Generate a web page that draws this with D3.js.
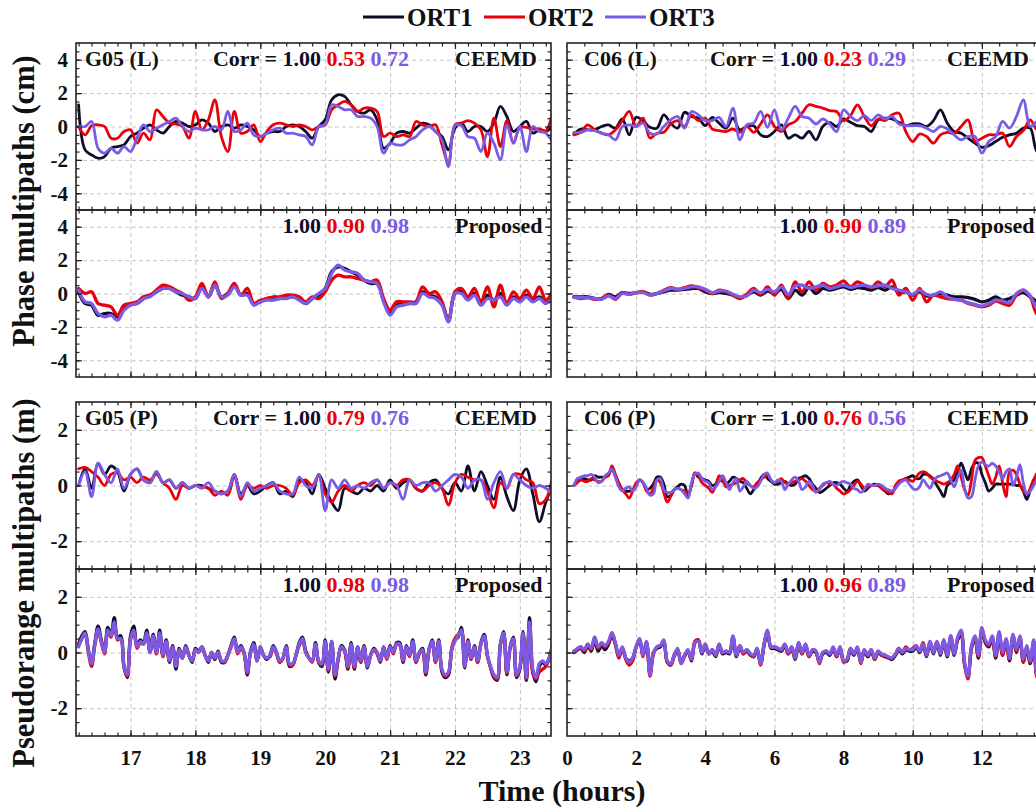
<!DOCTYPE html>
<html><head><meta charset="utf-8">
<script src="https://cdn.jsdelivr.net/npm/d3@7/dist/d3.min.js"></script>
<style>
body{margin:0;background:#fff}
svg{display:block}
text{font-family:"Liberation Serif","Times New Roman",serif;font-weight:bold}
</style>
</head><body><svg id="c" width="1036" height="812"></svg>
<script>
// ---------------- DATA ----------------
const seriesNames = ["ORT1", "ORT2", "ORT3"];

// time grids (hours)
const tLeft = d3.range(162, 236).map(d => d / 10);       // 16.2 .. 23.5
const tLeftFine = d3.range(324, 471).map(d => d / 20);   // 16.20 .. 23.50
const tRight = d3.range(1, 70).map(d => d / 5);          // 0.2 .. 13.8
const tRightFine = d3.range(2, 139).map(d => d / 10);    // 0.2 .. 13.8

// tick labels
const xTicksLeft = [17, 18, 19, 20, 21, 22, 23];
const xTicksRight = [0, 2, 4, 6, 8, 10, 12];
const yTicksPhase = [-4, -2, 0, 2, 4];
const yTicksPR = [-2, 0, 2];

// correlation texts
const corr_g05L_ceemd = ["1.00", "0.53", "0.72"];
const corr_g05L_prop = ["1.00", "0.90", "0.98"];
const corr_g05P_ceemd = ["1.00", "0.79", "0.76"];
const corr_g05P_prop = ["1.00", "0.98", "0.98"];
const corr_c06L_ceemd = ["1.00", "0.23", "0.29"];
const corr_c06L_prop = ["1.00", "0.90", "0.89"];
const corr_c06P_ceemd = ["1.00", "0.76", "0.56"];
const corr_c06P_prop = ["1.00", "0.96", "0.89"];

// G05 phase (cm), CEEMD
const g05L_ceemd_ort1 = [1.3,-1.4,-1.7,-1.9,-1.8,-1.3,-1.2,-1.1,-0.6,-0.4,
 -0.1,0.1,-0.2,-0.4,0.0,0.3,0.2,0.0,0.1,0.4,
 0.2,-0.3,0.0,0.1,-0.1,0.1,0.0,-0.2,-0.6,-0.4,
 -0.3,-0.3,0.0,0.1,0.0,-0.3,-0.7,0.0,0.4,1.6,
 1.9,1.8,1.3,0.9,0.8,1.0,0.4,-1.3,-1.0,-0.4,
 -0.3,-0.4,-0.1,0.2,0.1,-0.3,-0.6,-1.4,-0.1,0.2,
 -0.3,0.0,0.0,-0.3,0.2,1.2,0.6,-0.3,0.0,0.3,
 -0.4,-0.2,-0.3,0.0];
const g05L_ceemd_ort2 = [0.0,-0.5,0.05,0.1,0.0,-0.7,-0.7,-0.3,-0.2,-1.0,
 -0.4,-0.8,1.0,0.6,0.2,0.15,0.0,-0.7,0.9,-0.2,
 0.4,1.6,-0.6,-1.5,0.9,-0.4,-0.3,0.1,-0.9,-0.3,
 0.1,0.2,0.1,0.0,0.1,0.0,-0.2,0.0,0.1,1.0,
 1.3,1.5,1.3,0.9,1.1,1.1,0.9,-0.6,-0.4,-0.6,
 -0.5,-0.6,0.3,0.1,0.0,0.1,-1.1,-2.2,0.1,0.2,
 0.35,0.2,-0.2,-1.8,0.5,-1.2,0.35,-1.0,-0.05,-0.05,
 -0.15,-0.15,-0.25,0.8];
const g05L_ceemd_ort3 = [0.0,0.0,0.3,-1.3,-1.6,-1.3,-1.6,-1.2,-1.5,-0.7,
 0.1,-0.3,-0.1,0.1,0.3,0.5,0.0,-0.3,-0.1,-0.2,
 -0.2,0.0,-0.2,0.9,-0.3,-0.2,0.2,-0.5,-0.6,-0.4,
 -0.2,-0.1,-0.4,-0.4,-0.5,-0.6,-1.1,0.0,0.1,1.3,
 1.2,1.0,1.0,0.6,0.6,0.5,0.0,-1.6,-1.0,-1.1,
 -1.1,-0.8,-0.6,-0.2,0.0,-0.3,-0.8,-2.4,0.05,0.05,
 -0.6,-0.7,-1.5,-0.4,-1.0,-2.0,0.1,-1.0,0.0,-1.5,
 0.0,-0.3,-0.4,-0.9];

// G05 phase (cm), Proposed
const g05L_prop_ort1 = [0.1,-0.6,-0.7,-1.3,-1.2,-1.2,-1.4,-0.9,-0.6,-0.6,
 -0.3,-0.1,0.1,0.3,0.3,0.1,-0.1,-0.2,-0.3,0.4,
 -0.2,0.5,-0.2,0.0,0.5,-0.1,0.0,-0.6,-0.5,-0.3,
 -0.3,-0.3,-0.2,-0.2,-0.3,-0.6,-0.3,-0.1,0.3,1.3,
 1.6,1.5,1.3,1.1,0.8,0.6,0.6,-0.4,-1.2,-0.7,
 -0.6,-0.6,-0.5,0.1,-0.1,-0.2,-0.6,-1.6,0.0,0.1,
 -0.3,0.0,-0.6,-0.1,-0.4,0.0,-0.6,-0.2,-0.4,-0.1,
 -0.4,-0.2,-0.5,0.0];
const g05L_prop_ort2 = [0.3,0.0,0.1,-0.6,-0.7,-0.8,-1.3,-0.7,-0.6,-0.5,
 -0.2,-0.1,0.2,0.5,0.4,0.2,0.0,-0.4,-0.2,0.6,
 -0.2,0.7,-0.3,0.0,0.6,-0.1,0.3,-0.6,-0.4,-0.3,
 -0.2,-0.2,-0.1,-0.1,-0.2,-0.5,-0.2,-0.3,0.1,0.8,
 1.1,1.0,1.0,0.9,0.8,0.7,0.8,-0.3,-1.0,-0.5,
 -0.5,-0.5,-0.5,0.4,0.0,0.1,-0.5,-1.6,0.1,0.3,
 -0.2,0.3,-0.5,0.4,-0.8,0.5,-0.6,0.1,-0.3,0.2,
 -0.3,0.4,-0.4,0.1];
const g05L_prop_ort3 = [0.2,-0.5,-0.6,-1.2,-1.4,-1.3,-1.6,-1.0,-0.7,-0.6,
 -0.3,-0.2,0.1,0.3,0.3,0.1,0.0,-0.2,-0.3,0.3,
 -0.2,0.5,-0.2,-0.1,0.4,-0.1,-0.1,-0.7,-0.5,-0.4,
 -0.4,-0.3,-0.3,-0.2,-0.4,-0.6,-0.3,0.0,0.3,1.2,
 1.7,1.4,1.3,1.2,0.8,0.7,0.6,-0.5,-1.3,-0.8,
 -0.7,-0.6,-0.6,0.0,-0.2,-0.3,-0.7,-1.7,0.0,0.0,
 -0.4,-0.1,-0.7,-0.3,-0.4,-0.2,-0.7,-0.3,-0.5,-0.2,
 -0.5,-0.3,-0.6,-0.3];

// G05 pseudorange (m), CEEMD
const g05P_ceemd_ort1 = [0.0,0.6,-0.1,0.8,0.4,0.7,0.5,-0.2,0.4,0.6,
 0.2,0.1,0.5,0.1,0.2,-0.1,0.1,-0.1,0.0,0.0,
 -0.1,-0.2,-0.3,-0.2,0.4,-0.3,0.0,-0.3,-0.2,0.0,
 0.1,-0.3,-0.2,-0.4,0.2,0.1,-0.3,0.4,-0.1,-0.6,
 -0.9,-0.1,-0.2,-0.3,-0.1,-0.2,0.0,-0.2,0.2,-0.1,
 0.1,0.2,-0.1,-0.2,0.1,0.2,-0.1,-0.3,0.1,-0.2,
 0.7,-0.2,0.5,0.0,-0.5,0.3,-0.4,-0.9,0.2,0.6,
 -0.3,-1.3,-0.6,0.0];
const g05P_ceemd_ort2 = [0.6,0.65,0.5,0.3,0.0,0.4,0.45,0.2,0.3,0.1,
 0.3,0.2,0.4,0.1,-0.1,-0.5,0.0,-0.1,0.0,-0.05,
 -0.1,-0.35,-0.2,-0.35,0.35,-0.5,0.0,-0.1,0.0,-0.1,
 0.0,0.0,-0.1,-0.35,0.1,0.2,0.0,0.35,-0.3,-0.6,
 -0.2,0.0,-0.2,0.0,0.1,0.0,0.2,-0.1,0.1,0.0,
 0.2,0.2,-0.1,-0.2,0.0,0.1,-0.1,-0.7,0.1,0.4,
 0.3,0.2,0.2,-0.2,-0.8,0.1,-0.1,0.4,0.4,0.2,
 0.1,-0.65,-0.5,0.3];
const g05P_ceemd_ort3 = [0.0,0.5,-0.4,0.8,0.4,0.1,0.6,-0.1,0.4,0.6,
 0.2,0.1,0.5,0.1,0.2,-0.1,0.1,-0.1,0.0,-0.1,
 0.1,-0.2,-0.3,-0.2,0.4,-0.4,0.1,-0.2,-0.1,0.0,
 0.1,-0.2,-0.3,-0.3,0.3,0.0,-0.1,0.4,-0.9,0.2,
 -0.1,0.2,-0.1,0.0,-0.1,0.1,0.2,-0.1,0.1,0.0,
 -0.5,0.2,0.0,0.1,0.1,-0.2,0.0,0.2,0.4,0.3,
 -0.1,0.2,0.2,-0.5,0.1,0.5,-0.1,0.4,0.2,0.0,
 -0.1,0.0,-0.1,-0.3];

// G05 pseudorange (m), Proposed (fine grid)
const g05P_prop_ort1 = [0.3,0.6,0.75,0.1,-0.35,0.35,0.95,0.45,0.05,0.9,
 0.65,1.25,0.55,0.6,-0.5,-0.9,0.6,0.95,0.25,0.45,
 0.35,0.8,0.05,0.65,0.0,0.8,-0.1,0.45,-0.35,0.25,
 -0.6,0.15,-0.2,0.25,-0.1,-0.35,0.15,0.05,0.2,-0.1,
 -0.35,0.0,-0.25,0.05,-0.35,-0.35,-0.1,0.25,0.55,0.05,
 0.25,0.0,-0.8,0.05,0.35,-0.3,0.2,-0.1,-0.25,-0.1,
 0.25,0.0,-0.35,-0.2,0.25,-0.5,-0.45,-0.1,0.35,0.55,
 0.05,-0.2,-0.3,0.35,-0.35,-0.5,0.45,-0.7,0.4,-0.95,
 -0.25,0.25,0.1,-0.6,0.35,-0.6,0.2,-0.35,0.25,-0.55,
 -0.1,0.15,0.0,-0.35,0.2,-0.2,0.25,0.0,0.35,0.35,
 -0.35,0.25,-0.1,0.45,-0.35,0.0,0.15,-0.8,0.1,0.45,
 -0.35,0.45,-0.7,-0.9,-0.8,0.1,0.45,0.55,0.9,-0.55,
 0.45,-0.25,0.25,-0.35,0.35,0.65,-0.1,-0.55,-0.9,-1.0,
 0.3,0.75,-0.8,0.2,0.55,-0.9,-0.6,0.75,-1.0,1.25,
 -0.7,-1.05,-0.5,-0.35,-0.45,-0.2,0.25];
const g05P_prop_ort2 = [0.25,0.5,0.65,0.0,-0.5,0.25,0.8,0.35,-0.05,0.75,
 0.55,1.05,0.45,0.5,-0.55,-0.85,0.45,0.75,0.15,0.35,
 0.3,0.65,0.0,0.55,-0.05,0.65,-0.15,0.4,-0.3,0.2,
 -0.5,0.1,-0.2,0.15,-0.1,-0.3,0.1,0.0,0.15,-0.1,
 -0.3,0.0,-0.2,0.0,-0.3,-0.35,-0.1,0.2,0.45,-0.05,
 0.15,-0.05,-0.75,0.0,0.25,-0.3,0.15,-0.1,-0.2,-0.15,
 0.2,-0.05,-0.35,-0.2,0.2,-0.45,-0.45,-0.1,0.25,0.45,
 0.0,-0.2,-0.35,0.25,-0.35,-0.45,0.35,-0.65,0.35,-0.85,
 -0.25,0.2,0.05,-0.55,0.25,-0.55,0.15,-0.35,0.2,-0.5,
 -0.1,0.1,-0.05,-0.3,0.15,-0.25,0.2,-0.05,0.3,0.25,
 -0.3,0.15,-0.15,0.35,-0.35,-0.05,0.1,-0.75,0.05,0.4,
 -0.35,0.4,-0.65,-0.85,-0.75,0.15,0.5,0.65,0.8,-0.5,
 0.4,-0.25,0.2,-0.35,0.3,0.55,-0.15,-0.55,-0.85,-0.95,
 0.25,0.65,-0.75,0.15,0.45,-0.85,-0.55,0.65,-0.95,1.0,
 -0.75,-0.95,-0.7,-0.6,-0.5,-0.25,0.15];
const g05P_prop_ort3 = [0.2,0.5,0.7,0.1,-0.4,0.3,0.85,0.4,0.0,0.8,
 0.6,1.1,0.5,0.5,-0.5,-0.8,0.5,0.8,0.2,0.4,
 0.3,0.7,0.0,0.6,0.0,0.7,-0.1,0.4,-0.3,0.2,
 -0.5,0.1,-0.2,0.2,-0.1,-0.3,0.1,0.0,0.2,-0.1,
 -0.3,0.0,-0.2,0.0,-0.3,-0.3,-0.1,0.2,0.5,0.0,
 0.2,0.0,-0.7,0.0,0.3,-0.3,0.2,-0.1,-0.2,-0.1,
 0.2,0.0,-0.3,-0.2,0.2,-0.4,-0.4,-0.1,0.3,0.5,
 0.0,-0.2,-0.3,0.3,-0.3,-0.4,0.4,-0.6,0.4,-0.8,
 -0.2,0.2,0.1,-0.5,0.3,-0.5,0.2,-0.3,0.2,-0.5,
 -0.1,0.1,0.0,-0.3,0.2,-0.2,0.2,0.0,0.3,0.3,
 -0.3,0.2,-0.1,0.4,-0.3,0.0,0.1,-0.7,0.1,0.4,
 -0.3,0.4,-0.6,-0.8,-0.7,0.1,0.4,0.6,0.8,-0.5,
 0.4,-0.2,0.2,-0.3,0.3,0.6,-0.1,-0.5,-0.8,-0.9,
 0.3,0.7,-0.7,0.2,0.5,-0.8,-0.5,0.7,-0.9,1.1,
 -0.6,-0.9,-0.4,-0.3,-0.4,-0.2,0.2];

// C06 phase (cm), CEEMD
const c06L_ceemd_ort1 = [-0.45,-0.15,-0.2,-0.2,0.0,0.1,-0.1,0.45,-0.5,0.55,
 0.35,-0.05,-0.1,0.7,0.2,-0.1,0.85,0.6,0.5,0.05,
 0.55,0.2,-0.1,0.5,-0.2,0.0,0.05,-0.5,-0.6,-0.3,
 0.1,-0.7,-0.5,-0.7,-0.3,-0.8,0.0,0.25,0.0,0.45,
 0.25,0.05,0.0,-0.3,0.4,0.5,0.45,0.25,0.05,0.15,
 0.15,0.0,0.35,1.0,0.2,-0.3,-0.4,-0.7,-1.0,-1.25,
 -1.15,-0.9,-0.65,-0.5,-0.4,-0.1,-0.1,-1.5,-1.3];
const c06L_ceemd_ort2 = [-0.5,-0.35,0.1,-0.2,-0.4,-0.5,-0.2,0.35,0.9,0.0,
 0.5,-0.7,-0.4,-0.35,0.15,0.35,0.0,0.7,0.35,0.5,
 -0.15,-0.25,-0.3,-0.15,-0.35,0.0,-0.35,0.15,0.7,0.0,
 -0.3,0.1,0.3,0.8,1.3,1.2,1.1,0.95,0.9,0.35,
 0.65,1.3,0.6,0.05,0.45,0.35,0.7,0.8,-0.3,-0.9,
 -0.45,-0.6,-1.0,-0.5,-0.35,-0.4,0.0,0.4,-0.9,-0.7,
 -0.5,-0.5,-0.4,-1.2,-0.6,-0.25,0.4,-0.2,0.2];
const c06L_ceemd_ort3 = [-0.35,-0.35,-0.2,-0.25,-0.4,-0.5,-0.8,0.0,0.1,0.0,
 0.2,-0.4,-0.45,0.0,0.4,0.6,-0.1,0.9,0.7,0.35,
 0.35,0.55,0.0,1.1,-0.8,0.1,0.2,0.9,-0.05,1.0,
 -0.2,0.5,1.2,0.6,0.5,0.15,0.45,0.15,-0.3,1.0,
 0.6,0.35,0.65,0.35,0.7,0.45,0.6,0.15,0.05,0.05,
 0.05,-0.1,-0.3,0.0,-0.15,-0.5,-0.8,-0.6,-0.6,-1.6,
 -0.9,-0.6,0.3,-0.1,0.6,1.6,0.0,0.3,0.2];

// C06 phase (cm), Proposed
const c06L_prop_ort1 = [-0.2,-0.2,-0.2,-0.3,-0.3,-0.05,-0.2,0.05,0.0,0.05,
 0.1,-0.05,0.0,0.1,0.2,0.2,0.25,0.3,0.3,0.1,
 0.0,0.05,0.0,-0.1,-0.25,-0.1,0.1,-0.1,0.15,0.0,
 0.25,-0.3,0.2,-0.1,0.35,0.0,0.3,0.2,0.3,0.4,
 0.25,0.35,0.3,0.2,0.35,0.2,0.4,0.05,0.1,-0.1,
 0.1,-0.15,-0.1,0.0,-0.1,-0.2,-0.2,-0.25,-0.35,-0.5,
 -0.4,-0.2,-0.4,-0.3,-0.1,0.05,-0.2,-0.5,-0.7];
const c06L_prop_ort2 = [-0.2,-0.3,-0.25,-0.35,-0.3,-0.1,-0.35,0.05,-0.05,0.05,
 0.1,-0.1,0.0,0.2,0.35,0.25,0.35,0.45,0.35,0.2,
 0.0,0.2,0.1,-0.1,-0.3,-0.05,0.3,-0.05,0.4,-0.1,
 0.5,-0.3,0.7,0.1,0.7,0.2,0.6,0.4,0.5,0.75,
 0.4,0.7,0.5,0.35,0.7,0.4,0.8,-0.1,0.3,-0.4,
 0.3,-0.5,-0.1,-0.2,-0.3,-0.35,-0.4,-0.6,-0.7,-0.8,
 -0.7,-0.45,-0.6,-0.7,-0.1,0.2,-0.2,-1.25,-1.3];
const c06L_prop_ort3 = [-0.25,-0.25,-0.25,-0.3,-0.35,-0.15,-0.3,0.0,-0.05,0.05,
 0.05,-0.1,0.0,0.15,0.3,0.25,0.3,0.4,0.4,0.25,
 0.05,0.15,0.15,-0.05,-0.2,-0.15,0.2,0.05,0.25,0.1,
 0.4,-0.05,0.45,0.5,0.3,0.4,0.5,0.3,0.4,0.5,
 0.35,0.45,0.5,0.4,0.45,0.5,0.3,0.2,0.1,-0.05,
 0.2,-0.05,-0.1,0.1,-0.2,-0.35,-0.4,-0.55,-0.65,-0.75,
 -0.6,-0.4,-0.45,-0.55,0.0,0.2,-0.15,-0.9,-1.1];

// C06 pseudorange (m), CEEMD (fine grid)
const c06P_ceemd_ort1 = [0.0,0.15,0.2,0.25,0.2,0.2,0.35,0.3,0.3,0.3,
 0.4,0.6,0.35,0.05,-0.15,-0.2,-0.2,-0.15,0.0,0.2,
 0.1,-0.15,-0.1,0.05,0.3,0.3,0.05,-0.4,-0.35,-0.15,
 -0.05,0.05,0.0,-0.4,0.0,0.45,0.3,0.25,0.2,0.15,
 0.0,0.05,0.2,0.15,0.05,0.15,0.3,0.25,0.15,0.1,
 -0.1,-0.3,-0.15,0.0,0.25,0.4,0.25,0.15,0.05,0.05,
 0.1,0.15,0.05,0.0,0.05,0.25,0.3,0.35,0.25,0.05,
 -0.1,-0.25,-0.2,-0.1,0.0,0.1,0.1,0.05,-0.1,-0.2,
 0.0,0.15,0.2,0.0,-0.2,-0.1,0.0,0.05,0.0,-0.1,
 -0.2,-0.3,-0.25,-0.1,0.15,0.2,0.25,0.3,0.35,0.25,
 0.25,0.4,0.4,0.35,0.2,0.0,-0.2,-0.4,0.0,0.1,
 0.2,0.5,0.8,0.5,0.2,0.6,0.8,0.8,0.4,0.1,
 -0.2,-0.1,0.05,0.05,0.05,0.05,0.05,0.05,0.0,0.0,
 -0.2,-0.5,-0.15,0.2,0.3,0.1,0.0];
const c06P_ceemd_ort2 = [0.0,0.1,0.2,0.15,0.15,0.25,0.2,0.15,0.15,0.3,
 0.35,0.7,0.4,0.1,-0.15,-0.3,-0.45,-0.2,0.1,0.2,
 0.1,-0.2,-0.3,-0.1,0.2,0.1,-0.25,-0.6,-0.4,-0.15,
 -0.1,-0.15,-0.2,-0.3,0.0,0.45,0.35,0.1,0.0,-0.1,
 -0.25,0.0,0.35,0.2,-0.05,0.0,0.05,0.1,0.2,0.25,
 0.1,0.0,-0.05,0.1,0.2,0.3,0.4,0.2,0.1,0.15,
 0.25,0.1,0.05,0.1,0.15,0.2,0.25,0.15,0.0,-0.15,
 -0.2,-0.1,0.0,0.1,0.05,0.05,-0.1,-0.2,-0.3,-0.25,
 -0.15,0.0,0.15,0.05,-0.1,-0.05,0.0,0.0,0.0,-0.1,
 -0.2,-0.25,-0.3,0.0,0.15,0.2,0.25,0.2,0.15,0.3,
 0.45,0.5,0.45,0.3,0.25,0.15,0.1,0.05,0.1,0.2,
 0.4,0.7,0.3,-0.15,-0.35,0.2,0.9,1.0,1.0,0.7,
 0.35,0.05,0.3,0.7,0.1,-0.4,0.5,0.55,0.4,0.05,
 -0.2,-0.3,-0.1,0.2,0.45,0.2,0.0];
const c06P_ceemd_ort3 = [0.0,0.25,0.3,0.35,0.35,0.4,0.3,0.1,0.15,0.35,
 0.45,0.6,0.3,-0.05,-0.2,-0.1,-0.05,-0.2,-0.05,0.2,
 0.1,-0.1,-0.35,-0.3,0.2,0.25,-0.15,-0.25,-0.25,-0.15,
 -0.1,-0.15,-0.3,-0.45,0.1,0.4,0.45,0.25,0.15,0.1,
 -0.15,-0.05,0.15,0.35,0.1,-0.15,0.1,0.25,-0.2,-0.05,
 0.15,0.0,-0.1,-0.05,0.15,0.4,0.45,0.2,0.1,0.2,
 0.15,-0.15,0.05,0.2,0.3,0.15,-0.15,-0.05,0.15,0.0,
 -0.25,-0.15,0.05,0.1,0.15,0.05,0.0,0.1,0.15,0.1,
 0.05,-0.1,-0.15,-0.25,-0.15,0.05,0.0,0.0,0.05,0.0,
 -0.1,-0.15,-0.2,-0.1,0.05,0.15,0.2,0.05,-0.1,-0.15,
 -0.05,0.2,0.05,-0.1,0.15,0.3,0.35,0.4,0.45,0.2,
 -0.05,0.3,0.55,-0.1,-0.45,-0.4,0.2,0.7,0.85,0.75,
 0.7,0.8,0.7,0.5,0.25,0.5,0.6,0.0,0.3,0.75,
 0.1,-0.3,-0.2,0.0,0.2,0.1,0.0];

// C06 pseudorange (m), Proposed (fine grid)
const c06P_prop_ort1 = [0.0,0.1,0.15,0.0,0.25,0.05,0.45,0.05,0.25,0.1,
 0.3,0.6,0.3,-0.15,0.15,-0.2,-0.3,-0.2,0.2,0.45,
 -0.1,0.35,-0.75,0.0,0.15,0.2,0.4,-0.35,-0.45,-0.1,
 0.1,-0.35,-0.1,0.05,-0.3,0.35,0.45,-0.05,0.25,-0.05,
 0.05,-0.15,0.25,-0.05,0.0,-0.05,0.55,-0.15,0.2,-0.05,
 0.05,-0.1,-0.15,0.1,-0.4,0.25,0.75,0.15,0.15,0.1,
 0.05,0.25,-0.05,0.15,-0.25,0.3,-0.05,0.25,-0.15,0.05,
 0.0,-0.35,-0.05,0.0,-0.1,0.15,-0.15,0.15,-0.3,-0.3,
 0.1,-0.1,0.15,-0.35,0.05,-0.15,0.05,-0.25,0.0,-0.1,
 -0.15,-0.2,-0.25,-0.1,0.1,-0.05,0.1,0.05,0.05,0.2,
 0.0,0.25,-0.15,0.35,-0.05,0.35,-0.1,0.4,-0.15,0.5,
 -0.1,0.45,0.65,-0.45,-0.85,0.15,0.5,-0.2,0.75,0.35,
 0.2,0.5,-0.2,0.6,-0.1,0.4,-0.3,0.55,0.0,0.5,
 -0.35,0.15,-0.4,0.35,-0.85,-0.6,-0.4];
const c06P_prop_ort2 = [0.05,0.1,0.2,0.05,0.3,0.1,0.55,0.15,0.3,0.2,
 0.35,0.7,0.3,-0.2,0.15,-0.25,-0.45,-0.3,0.2,0.5,
 -0.15,0.35,-0.85,-0.05,0.2,0.25,0.4,-0.35,-0.45,-0.15,
 0.1,-0.4,-0.15,0.05,-0.25,0.4,0.45,0.0,0.3,-0.05,
 0.1,-0.1,0.3,0.0,0.05,0.0,0.55,-0.1,0.25,-0.05,
 0.1,-0.05,-0.15,0.15,-0.45,0.3,0.75,0.2,0.2,0.15,
 0.1,0.3,-0.05,0.2,-0.2,0.35,-0.05,0.3,-0.15,0.1,
 0.05,-0.4,0.0,0.05,-0.05,0.15,-0.15,0.2,-0.35,-0.25,
 0.15,-0.05,0.15,-0.4,0.1,-0.1,0.1,-0.25,0.05,-0.1,
 -0.1,-0.2,-0.2,-0.05,0.15,0.0,0.2,0.1,0.15,0.25,
 0.05,0.35,-0.1,0.4,0.0,0.4,-0.05,0.45,-0.1,0.6,
 -0.05,0.5,0.75,-0.4,-0.95,0.2,0.55,-0.15,0.85,0.4,
 0.25,0.55,-0.15,0.7,-0.1,0.45,-0.25,0.6,0.05,0.55,
 -0.35,0.2,-0.35,0.4,-0.9,-0.7,-0.4];
const c06P_prop_ort3 = [0.05,0.15,0.2,0.1,0.3,0.15,0.55,0.2,0.35,0.25,
 0.4,0.7,0.35,-0.1,0.2,-0.2,-0.35,-0.2,0.2,0.5,
 -0.1,0.4,-0.8,0.0,0.2,0.25,0.45,-0.3,-0.4,-0.1,
 0.15,-0.4,-0.1,0.1,-0.25,0.35,0.4,0.0,0.3,-0.05,
 0.1,-0.1,0.3,0.0,0.05,0.0,0.6,-0.1,0.25,0.0,
 0.1,-0.05,-0.1,0.15,-0.4,0.3,0.8,0.2,0.2,0.15,
 0.1,0.3,0.0,0.2,-0.2,0.35,0.0,0.3,-0.1,0.1,
 0.05,-0.35,0.0,0.05,-0.05,0.2,-0.1,0.2,-0.3,-0.25,
 0.15,-0.05,0.2,-0.35,0.1,-0.1,0.1,-0.2,0.05,-0.05,
 -0.1,-0.15,-0.2,-0.05,0.15,0.0,0.15,0.1,0.1,0.25,
 0.05,0.3,-0.1,0.4,0.0,0.4,-0.05,0.45,-0.1,0.6,
 -0.05,0.55,0.8,-0.35,-0.85,0.25,0.6,-0.1,0.9,0.45,
 0.3,0.6,-0.1,0.75,0.0,0.5,-0.2,0.65,0.1,0.6,
 -0.25,0.25,-0.3,0.45,-0.8,-0.5,-0.3];

// ---------------- LAYOUT / STYLE ----------------
const colors = ["#0d0d2b", "#e8000b", "#7b5be6"];
const inkColor = "#111";
const W = 1036, H = 812;
const svg = d3.select("#c");
svg.append("rect").attr("width", W).attr("height", H).attr("fill", "#fff");

const cols = [
  { x0: 76, x1: 551, domain: [16.16, 23.48], major: xTicksLeft,
    minor: d3.range(81, 118).map(d => d / 5), labelDx: 9, corrEndDx: 333, methodDx: 379 },
  { x0: 567, x1: 1051, domain: [0, 14], major: xTicksRight.concat([14]),
    minor: d3.range(0, 29).map(d => d / 2), labelDx: 17, corrEndDx: 339, methodDx: 380 }
];
const rows = [
  { y0: 43, y1: 210, domain: [-5, 5], major: yTicksPhase, minor: d3.range(-10, 11).map(d => d / 2) },
  { y0: 210, y1: 377, domain: [-5, 5], major: yTicksPhase, minor: d3.range(-10, 11).map(d => d / 2) },
  { y0: 402, y1: 569, domain: [-3, 3], major: yTicksPR, minor: d3.range(-6, 7).map(d => d / 2) },
  { y0: 569, y1: 736, domain: [-3, 3], major: yTicksPR, minor: d3.range(-6, 7).map(d => d / 2) }
];
const xLabelSets = [xTicksLeft, xTicksRight];

const panels = [
  { c: 0, r: 0, label: "G05 (L)", corr: corr_g05L_ceemd, method: "CEEMD", t: tLeft, s: [g05L_ceemd_ort1, g05L_ceemd_ort2, g05L_ceemd_ort3] },
  { c: 0, r: 1, label: null, corr: corr_g05L_prop, method: "Proposed", t: tLeft, s: [g05L_prop_ort1, g05L_prop_ort2, g05L_prop_ort3] },
  { c: 0, r: 2, label: "G05 (P)", corr: corr_g05P_ceemd, method: "CEEMD", t: tLeft, s: [g05P_ceemd_ort1, g05P_ceemd_ort2, g05P_ceemd_ort3] },
  { c: 0, r: 3, label: null, corr: corr_g05P_prop, method: "Proposed", t: tLeftFine, s: [g05P_prop_ort1, g05P_prop_ort2, g05P_prop_ort3] },
  { c: 1, r: 0, label: "C06 (L)", corr: corr_c06L_ceemd, method: "CEEMD", t: tRight, s: [c06L_ceemd_ort1, c06L_ceemd_ort2, c06L_ceemd_ort3] },
  { c: 1, r: 1, label: null, corr: corr_c06L_prop, method: "Proposed", t: tRight, s: [c06L_prop_ort1, c06L_prop_ort2, c06L_prop_ort3] },
  { c: 1, r: 2, label: "C06 (P)", corr: corr_c06P_ceemd, method: "CEEMD", t: tRightFine, s: [c06P_ceemd_ort1, c06P_ceemd_ort2, c06P_ceemd_ort3] },
  { c: 1, r: 3, label: null, corr: corr_c06P_prop, method: "Proposed", t: tRightFine, s: [c06P_prop_ort1, c06P_prop_ort2, c06P_prop_ort3] }
];

const defs = svg.append("defs");

panels.forEach((p, pi) => {
  const C = cols[p.c], R = rows[p.r];
  const x = d3.scaleLinear().domain(C.domain).range([C.x0, C.x1]);
  const y = d3.scaleLinear().domain(R.domain).range([R.y1, R.y0]);
  const g = svg.append("g");
  const w = C.x1 - C.x0, h = R.y1 - R.y0;

  // grid
  const gx = g.append("g").attr("transform", `translate(0,${R.y1})`)
    .call(d3.axisBottom(x).tickValues(C.major.filter(v => v > C.domain[0] && v < C.domain[1])).tickSize(-h).tickFormat(""));
  const gy = g.append("g").attr("transform", `translate(${C.x0},0)`)
    .call(d3.axisLeft(y).tickValues(R.major).tickSize(-w).tickFormat(""));
  [gx, gy].forEach(a => {
    a.select(".domain").remove();
    a.selectAll("line").attr("stroke", "#c4c4c4").attr("stroke-width", 1).attr("stroke-dasharray", "4,3");
  });

  // series
  const cid = "clip" + pi;
  defs.append("clipPath").attr("id", cid).append("rect")
    .attr("x", C.x0).attr("y", R.y0).attr("width", w).attr("height", h);
  const line = d3.line().x(d => x(d[0])).y(d => y(d[1])).curve(d3.curveCatmullRom.alpha(0.5));
  const lg = g.append("g").attr("clip-path", `url(#${cid})`);
  p.s.forEach((vals, si) => {
    const pts = vals.map((v, i) => [p.t[i], v]).filter(d => d[0] !== undefined);
    lg.append("path").datum(pts).attr("d", line).attr("fill", "none")
      .attr("stroke", colors[si]).attr("stroke-width", p.method === "CEEMD" ? 2.8 : 3.3)
      .attr("stroke-linejoin", "round").attr("stroke-linecap", "round");
  });

  // ticks (inward) on all four sides
  const tickAxes = [
    [d3.axisBottom(x), `translate(0,${R.y1})`, -6, C.major],
    [d3.axisBottom(x), `translate(0,${R.y1})`, -3.5, C.minor],
    [d3.axisTop(x), `translate(0,${R.y0})`, -6, C.major],
    [d3.axisTop(x), `translate(0,${R.y0})`, -3.5, C.minor],
    [d3.axisLeft(y), `translate(${C.x0},0)`, -6, R.major],
    [d3.axisLeft(y), `translate(${C.x0},0)`, -3.5, R.minor],
    [d3.axisRight(y), `translate(${C.x1},0)`, -6, R.major],
    [d3.axisRight(y), `translate(${C.x1},0)`, -3.5, R.minor]
  ];
  tickAxes.forEach(([ax, tr, size, vals]) => {
    const dom = ax.scale().domain();
    const a = g.append("g").attr("transform", tr)
      .call(ax.tickValues(vals.filter(v => v > dom[0] + 1e-9 && v < dom[1] - 1e-9)).tickSize(size).tickFormat(""));
    a.select(".domain").remove();
    a.selectAll("line").attr("stroke", "#222").attr("stroke-width", 1.2);
  });

  // frame
  g.append("rect").attr("x", C.x0).attr("y", R.y0).attr("width", w).attr("height", h)
    .attr("fill", "none").attr("stroke", "#222").attr("stroke-width", 1.6);

  // y tick labels (left column only)
  if (p.c === 0) {
    const a = g.append("g").attr("transform", `translate(${C.x0},0)`)
      .call(d3.axisLeft(y).tickValues(R.major).tickSize(0).tickPadding(8).tickFormat(d => String(d)));
    a.select(".domain").remove();
    a.selectAll("text").attr("font-size", 21).attr("fill", inkColor)
      .attr("font-family", "Liberation Serif, Times New Roman, serif").attr("font-weight", "bold");
  }
  // x tick labels (bottom row only)
  if (p.r === 3) {
    const a = g.append("g").attr("transform", `translate(0,${R.y1})`)
      .call(d3.axisBottom(x).tickValues(xLabelSets[p.c]).tickSize(0).tickPadding(14).tickFormat(d => String(d)));
    a.select(".domain").remove();
    a.selectAll("text").attr("font-size", 21).attr("fill", inkColor)
      .attr("font-family", "Liberation Serif, Times New Roman, serif").attr("font-weight", "bold");
  }

  // annotations
  const by = R.y0 + 23;
  if (p.label) {
    g.append("text").attr("x", C.x0 + C.labelDx).attr("y", by).attr("font-size", 22)
      .attr("fill", inkColor).text(p.label);
  }
  const ct = g.append("text").attr("x", C.x0 + C.corrEndDx).attr("y", by)
    .attr("font-size", 22).attr("text-anchor", "end");
  if (p.label) ct.append("tspan").attr("fill", inkColor).text("Corr = ");
  p.corr.forEach((v, i) => {
    ct.append("tspan").attr("fill", colors[i]).text((i > 0 ? " " : "") + v);
  });
  g.append("text").attr("x", C.x0 + C.methodDx).attr("y", by).attr("font-size", 22)
    .attr("fill", inkColor).text(p.method);
});

// legend
const legX = [363, 484, 605];
seriesNames.forEach((n, i) => {
  svg.append("line").attr("x1", legX[i]).attr("x2", legX[i] + 41).attr("y1", 17).attr("y2", 17)
    .attr("stroke", colors[i]).attr("stroke-width", 3);
  svg.append("text").attr("x", legX[i] + 44).attr("y", 26).attr("font-size", 25)
    .attr("fill", inkColor).text(n);
});

// axis titles
svg.append("text").attr("x", 562).attr("y", 801).attr("text-anchor", "middle")
  .attr("font-size", 30).attr("fill", inkColor).text("Time (hours)");
svg.append("text").attr("transform", "translate(34,201) rotate(-90)").attr("text-anchor", "middle")
  .attr("font-size", 30.5).attr("fill", inkColor).text("Phase multipaths (cm)");
svg.append("text").attr("transform", "translate(34,583) rotate(-90)").attr("text-anchor", "middle")
  .attr("font-size", 30.5).attr("fill", inkColor).text("Pseudorange multipaths (m)");
</script>
</body></html>
